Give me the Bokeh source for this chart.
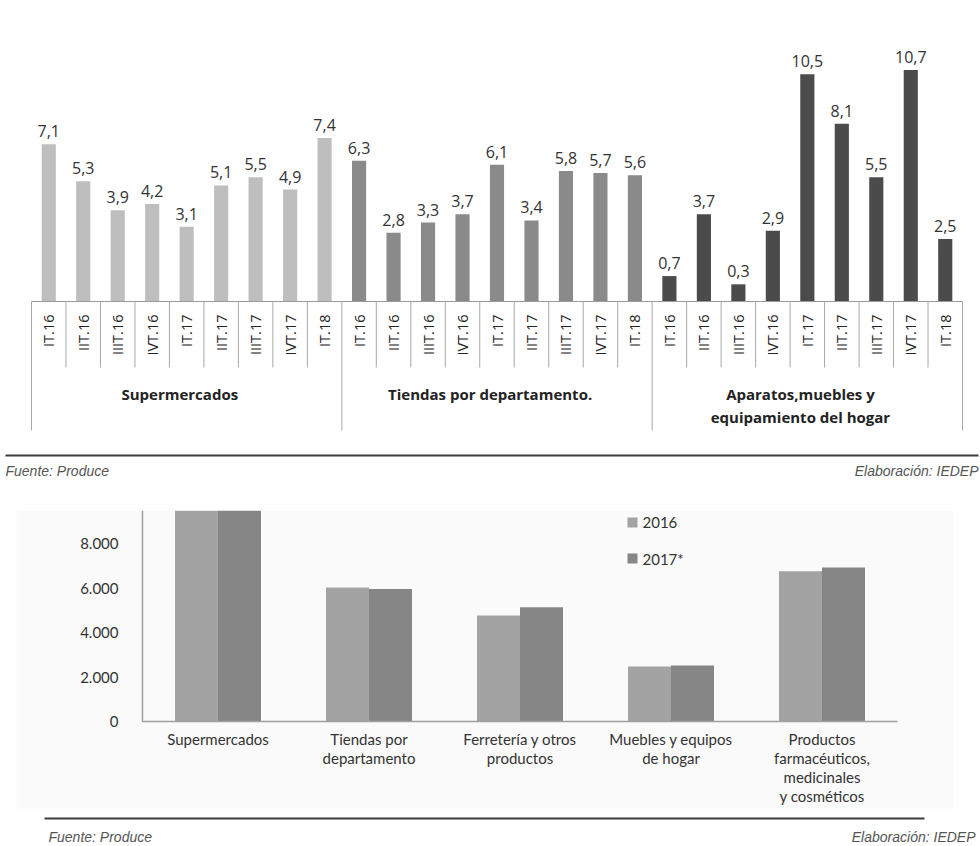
import numpy as np
from bokeh.plotting import figure
from bokeh.layouts import column
from bokeh.models import Range1d
from bokeh.core.properties import value
from bokeh.embed import file_html
from bokeh.resources import INLINE

# ---------------- data: chart 1 (variación %) ----------------
groups = ["Supermercados", "Tiendas por departamento.", "Aparatos,muebles y\nequipamiento del hogar"]
quarters = ["IT.16", "IIT.16", "IIIT.16", "IVT.16", "IT.17", "IIT.17", "IIIT.17", "IVT.17", "IT.18"]
super_vals = [7.1, 5.3, 3.9, 4.2, 3.1, 5.1, 5.5, 4.9, 7.4]
tiendas_vals = [6.3, 2.8, 3.3, 3.7, 6.1, 3.4, 5.8, 5.7, 5.6]
aparatos_vals = [0.7, 3.7, 0.3, 2.9, 10.5, 8.1, 5.5, 10.7, 2.5]
group_colors = ["#bebebe", "#8a8a8a", "#4b4b4b"]

# ---------------- data: chart 2 (ventas) ----------------
rubros = ["Supermercados", "Tiendas por\ndepartamento", "Ferretería y otros\nproductos",
          "Muebles y equipos\nde hogar", "Productos\nfarmacéuticos,\nmedicinales\ny cosméticos"]
ventas_2016 = [10700, 6020, 4760, 2470, 6750]
ventas_2017 = [10900, 5950, 5140, 2520, 6920]
y_ticks = [0, 2000, 4000, 6000, 8000]
series = ["2016", "2017*"]
series_colors = ["#a3a3a3", "#868686"]

fuente = "Fuente: Produce"
elaboracion = "Elaboración: IEDEP"

W = 980
FONT = value("Open Sans")
FONT2 = value("Lato")
FONT_FOOT = value("Liberation Sans")

# ======================= TOP FIGURE =======================
H1 = 510
n_per = len(quarters)
all_vals = super_vals + tiendas_vals + aparatos_vals
n_slots = len(all_vals)
SLOT_L, SLOT_R = 31, 962
ppx = (SLOT_R - SLOT_L) / n_slots
BASE_PX, PPY, OFF = 301, 20.6, 11
vb = -OFF / PPY


def xd1(px):
    return (px - SLOT_L) / ppx


def yd1(py):
    return vb + (BASE_PX - py) / PPY


p1 = figure(width=W, height=H1, x_range=Range1d(xd1(0), xd1(W)), y_range=Range1d(yd1(H1), yd1(0)),
            output_backend="svg", toolbar_location=None, min_border=0,
            x_axis_location=None, y_axis_location=None, outline_line_color=None,
            background_fill_color="white", border_fill_color="white")
p1.grid.visible = False

xs = [i + 0.5 for i in range(n_slots)]
cols = [group_colors[i // n_per] for i in range(n_slots)]
p1.vbar(x=xs, top=all_vals, bottom=vb, width=0.41, fill_color=cols, line_color=None)
p1.text(x=xs, y=all_vals, text=[f"{v:.1f}".replace(".", ",") for v in all_vals],
        text_align="center", text_baseline="bottom", y_offset=-7,
        text_font=FONT, text_font_size="16px", text_color="#333333")

# axis line & dividers
p1.segment(x0=[0], x1=[n_slots], y0=[vb], y1=[vb], line_color="#9a9a9a", line_width=1.2)
bounds = list(range(n_slots + 1))
short = [b for b in bounds if b % n_per != 0]
longb = [b for b in bounds if b % n_per == 0]
p1.segment(x0=short, x1=short, y0=[vb] * len(short), y1=[yd1(367)] * len(short),
           line_color="#a8a8a8", line_width=1)
p1.segment(x0=longb, x1=longb, y0=[vb] * len(longb), y1=[yd1(430)] * len(longb),
           line_color="#a8a8a8", line_width=1)

# rotated quarter labels
qlabels = quarters * len(groups)
p1.text(x=xs, y=[yd1(314)] * n_slots, text=qlabels, angle=np.pi / 2,
        text_align="right", text_baseline="middle",
        text_font=FONT, text_font_size="14.5px", text_color="#222222")

# group labels
gx, gy, gt = [], [], []
for g, name in enumerate(groups):
    for k, line in enumerate(name.split("\n")):
        gx.append(g * n_per + n_per / 2 - 0.2)
        gy.append(yd1(393 + k * 23))
        gt.append(line)
p1.text(x=gx, y=gy, text=gt, text_align="center", text_baseline="middle",
        text_font=FONT, text_font_size="15px", text_font_style="bold", text_color="#222222")

# footer 1
p1.segment(x0=[xd1(5)], x1=[xd1(978)], y0=[yd1(455)], y1=[yd1(455)], line_color="#3c3c3c", line_width=2)
p1.text(x=[xd1(5)], y=[yd1(470)], text=[fuente], text_align="left", text_baseline="middle",
        text_font=FONT_FOOT, text_font_size="14px", text_font_style="italic", text_color="#555555")
p1.text(x=[xd1(978)], y=[yd1(470)], text=[elaboracion], text_align="right", text_baseline="middle",
        text_font=FONT_FOOT, text_font_size="14px", text_font_style="italic", text_color="#555555")

# ======================= BOTTOM FIGURE =======================
H2 = 336
C0, STEP = 217.5, 151
BASE2 = 211
PPY2 = 44.5 / 2000


def xd2(px):
    return (px - C0) / STEP


def yd2(py):
    return (BASE2 - py) / PPY2


p2 = figure(width=W, height=H2, x_range=Range1d(xd2(0), xd2(W)), y_range=Range1d(yd2(H2), yd2(0)),
            output_backend="svg", toolbar_location=None, min_border=0,
            x_axis_location=None, y_axis_location=None, outline_line_color=None,
            background_fill_color="white", border_fill_color="white")
p2.grid.visible = False

# light panel background
p2.quad(left=[xd2(16)], right=[xd2(953)], bottom=[yd2(298)], top=[yd2(0)],
        fill_color="#fafafa", line_color=None)

idx = list(range(len(rubros)))
bw = 43 / STEP
p2.vbar(x=[i - bw / 2 for i in idx], top=ventas_2016, bottom=0, width=bw,
        fill_color=series_colors[0], line_color=None)
p2.vbar(x=[i + bw / 2 for i in idx], top=ventas_2017, bottom=0, width=bw,
        fill_color=series_colors[1], line_color=None)

# axes lines
p2.segment(x0=[xd2(142)], x1=[xd2(142)], y0=[0], y1=[yd2(0)], line_color="#a0a0a0", line_width=1.5)
p2.segment(x0=[xd2(142)], x1=[xd2(897)], y0=[0], y1=[0], line_color="#a0a0a0", line_width=1.5)

# y tick labels
p2.text(x=[xd2(118)] * len(y_ticks), y=y_ticks,
        text=[f"{t:,}".replace(",", ".") for t in y_ticks],
        text_align="right", text_baseline="middle",
        text_font=FONT2, text_font_size="15px", text_color="#333333")

# category labels
cx, cy, ct = [], [], []
for i, name in enumerate(rubros):
    for k, line in enumerate(name.split("\n")):
        cx.append(i)
        cy.append(yd2(228 + k * 19))
        ct.append(line)
p2.text(x=cx, y=cy, text=ct, text_align="center", text_baseline="middle",
        text_font=FONT2, text_font_size="15px", text_color="#333333")

# legend
ly = [yd2(12 + k * 36) for k in range(len(series))]
p2.rect(x=[xd2(632)] * len(series), y=ly, width=10, height=10,
        width_units="screen", height_units="screen", fill_color=series_colors, line_color=None)
p2.text(x=[xd2(642)] * len(series), y=ly, text=series, text_align="left", text_baseline="middle",
        text_font=FONT2, text_font_size="15px", text_color="#333333")

# footer 2
p2.segment(x0=[xd2(44)], x1=[xd2(924)], y0=[yd2(308)], y1=[yd2(308)], line_color="#3c3c3c", line_width=2)
p2.text(x=[xd2(48)], y=[yd2(326)], text=[fuente], text_align="left", text_baseline="middle",
        text_font=FONT_FOOT, text_font_size="14px", text_font_style="italic", text_color="#555555")
p2.text(x=[xd2(975)], y=[yd2(326)], text=[elaboracion], text_align="right", text_baseline="middle",
        text_font=FONT_FOOT, text_font_size="14px", text_font_style="italic", text_color="#555555")

layout = column(p1, p2, spacing=0)
open("out.html", "w").write(file_html(layout, INLINE))
